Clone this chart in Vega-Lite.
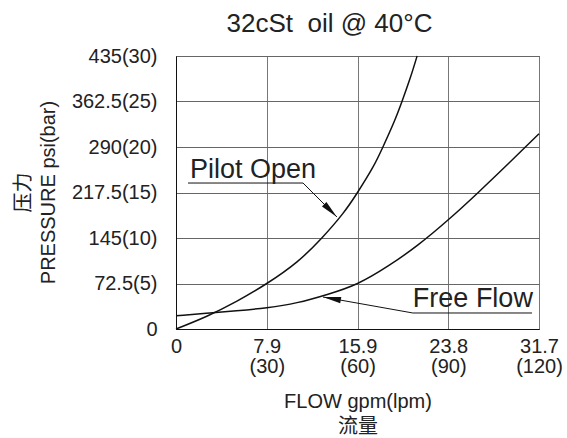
{
  "$schema": "https://vega.github.io/schema/vega-lite/v6.json",
  "width": 363,
  "height": 273,
  "autosize": "none",
  "padding": {"left": 176, "top": 56, "right": 28, "bottom": 109},
  "background": "white",
  "config": {
    "font": "Liberation Sans, Noto Sans CJK SC",
    "view": {"stroke": "#222", "strokeWidth": 1}
  },
  "title": {
    "text": "32cSt\u00a0 oil @ 40°C",
    "frame": "group",
    "anchor": "middle",
    "dx": -28,
    "dy": 35,
    "fontSize": 26,
    "fontWeight": "normal",
    "color": "#222",
    "baseline": "alphabetic",
    "offset": 23
  },
  "datasets": {
    "curves": [
      {"series": "Pilot Open", "lpm": 0, "psi": 0},
      {"series": "Pilot Open", "lpm": 10, "psi": 20},
      {"series": "Pilot Open", "lpm": 20, "psi": 44},
      {"series": "Pilot Open", "lpm": 30, "psi": 72.5},
      {"series": "Pilot Open", "lpm": 40, "psi": 107},
      {"series": "Pilot Open", "lpm": 48.2, "psi": 145},
      {"series": "Pilot Open", "lpm": 55, "psi": 183},
      {"series": "Pilot Open", "lpm": 60, "psi": 217.5},
      {"series": "Pilot Open", "lpm": 65, "psi": 257},
      {"series": "Pilot Open", "lpm": 68.4, "psi": 290},
      {"series": "Pilot Open", "lpm": 72, "psi": 329},
      {"series": "Pilot Open", "lpm": 74.7, "psi": 362.5},
      {"series": "Pilot Open", "lpm": 77.5, "psi": 401},
      {"series": "Pilot Open", "lpm": 79.7, "psi": 435},
      {"series": "Free Flow", "lpm": 0, "psi": 21},
      {"series": "Free Flow", "lpm": 10, "psi": 25},
      {"series": "Free Flow", "lpm": 20, "psi": 29},
      {"series": "Free Flow", "lpm": 30, "psi": 34},
      {"series": "Free Flow", "lpm": 40, "psi": 42},
      {"series": "Free Flow", "lpm": 50, "psi": 55},
      {"series": "Free Flow", "lpm": 60, "psi": 72.5},
      {"series": "Free Flow", "lpm": 70, "psi": 100},
      {"series": "Free Flow", "lpm": 80, "psi": 134},
      {"series": "Free Flow", "lpm": 90, "psi": 174},
      {"series": "Free Flow", "lpm": 100, "psi": 218},
      {"series": "Free Flow", "lpm": 110, "psi": 264},
      {"series": "Free Flow", "lpm": 120, "psi": 311}
    ],
    "leaders": [
      {"part": "pilot underline", "x1": 3.97, "y1": 232.6, "x2": 42.0, "y2": 232.6},
      {"part": "pilot arrow", "x1": 42.0, "y1": 232.6, "x2": 53.2, "y2": 178.5},
      {"part": "free underline", "x1": 78.3, "y1": 25.5, "x2": 117.7, "y2": 25.5},
      {"part": "free arrow", "x1": 78.3, "y1": 25.5, "x2": 48.6, "y2": 51}
    ],
    "labels": [
      {"text": "Pilot Open", "lpm": 4.6, "psi": 240.6},
      {"text": "Free Flow", "lpm": 78.3, "psi": 35}
    ]
  },
  "layer": [
    {
      "data": {"name": "curves"},
      "mark": {"type": "line", "interpolate": "natural", "color": "#111", "strokeWidth": 1.5},
      "encoding": {
        "x": {
          "field": "lpm",
          "type": "quantitative",
          "scale": {"domain": [0, 120], "nice": false},
          "axis": {
            "values": [0, 30, 60, 90, 120],
            "labelExpr": "datum.value == 0 ? '0' : [format(datum.value / 3.785, '.1f'), '(' + datum.value + ')']",
            "title": ["FLOW gpm(lpm)", "流量"],
            "grid": true,
            "gridColor": "#777",
            "gridOpacity": 1,
            "ticks": false,
            "tickSize": 0,
            "domainColor": "#111",
            "labelFontSize": 20,
            "labelColor": "#222",
            "labelPadding": 7,
            "labelLineHeight": 20,
            "labelBaseline": "top",
            "labelFlush": false,
            "labelOverlap": false,
            "titleFontSize": 20,
            "titleFontWeight": "normal",
            "titleColor": "#222",
            "titleLineHeight": 25,
            "titleY": 72,
            "titleBaseline": "middle"
          }
        },
        "y": {
          "field": "psi",
          "type": "quantitative",
          "scale": {"domain": [0, 435], "nice": false},
          "axis": {
            "values": [0, 72.5, 145, 217.5, 290, 362.5, 435],
            "labelExpr": "datum.value == 0 ? '0' : '' + datum.value + '(' + round(datum.value / 14.5) + ')'",
            "title": ["压力", "PRESSURE psi(bar)"],
            "grid": true,
            "gridColor": "#666",
            "gridOpacity": 1,
            "ticks": false,
            "tickSize": 0,
            "domainColor": "#111",
            "labelFontSize": 20,
            "labelColor": "#222",
            "labelPadding": 19,
            "labelFlush": false,
            "labelOverlap": false,
            "titleFontSize": 20,
            "titleFontWeight": "normal",
            "titleColor": "#222",
            "titleLineHeight": 25,
            "titleAngle": -90,
            "titleX": -153,
            "titleY": 136,
            "titleAlign": "center",
            "titleBaseline": "middle"
          }
        },
        "detail": {"field": "series"}
      }
    },
    {
      "data": {"name": "leaders"},
      "mark": {"type": "rule", "color": "#111", "strokeWidth": 1},
      "encoding": {
        "x": {"field": "x1", "type": "quantitative"},
        "y": {"field": "y1", "type": "quantitative"},
        "x2": {"field": "x2"},
        "y2": {"field": "y2"}
      }
    },
    {
      "data": {"values": [{"lpm": 53.2, "psi": 178.5}]},
      "mark": {"type": "point", "shape": "M0,0L0.35,2L-0.35,2Z", "filled": true, "color": "#111", "opacity": 1, "size": 324, "angle": 135},
      "encoding": {
        "x": {"field": "lpm", "type": "quantitative"},
        "y": {"field": "psi", "type": "quantitative"}
      }
    },
    {
      "data": {"values": [{"lpm": 48.6, "psi": 51}]},
      "mark": {"type": "point", "shape": "M0,0L0.35,2L-0.35,2Z", "filled": true, "color": "#111", "opacity": 1, "size": 324, "angle": 280},
      "encoding": {
        "x": {"field": "lpm", "type": "quantitative"},
        "y": {"field": "psi", "type": "quantitative"}
      }
    },
    {
      "data": {"name": "labels"},
      "mark": {"type": "text", "align": "left", "baseline": "alphabetic", "fontSize": 27, "color": "#222"},
      "encoding": {
        "x": {"field": "lpm", "type": "quantitative"},
        "y": {"field": "psi", "type": "quantitative"},
        "text": {"field": "text"}
      }
    }
  ]
}
